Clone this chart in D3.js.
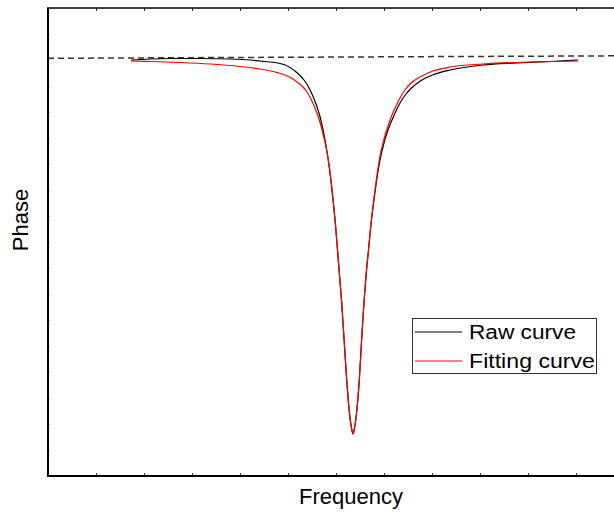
<!DOCTYPE html>
<html>
<head>
<meta charset="utf-8">
<script src="https://cdn.jsdelivr.net/npm/d3@7"></script>
<style>
  html, body { margin: 0; padding: 0; background: #fff; overflow: hidden; }
  svg { display: block; }
  text { font-family: "Liberation Sans", Arial, Helvetica, sans-serif; fill: #000; }
</style>
</head>
<body>
<svg id="chart" width="614" height="513"></svg>
<script>
// Frequency / phase readings (arbitrary units)
const rawFreq = [83, 102, 122, 152, 182, 202, 212, 222, 232, 237, 242, 247, 252, 256, 260, 264, 268, 271, 274, 277, 280, 282.5, 285, 287.5, 289.5, 291.5, 293.5, 296, 298.7, 300.5, 302, 303.5, 305, 306.5, 308, 309.5, 311.3, 313.5, 316, 318, 320.5, 323, 326, 329, 332, 336, 340, 344, 348, 352, 358, 363, 372, 385, 402, 435, 469, 502, 530];
const rawPhase = [416, 417, 417.5, 417.5, 417, 416, 415, 414, 412.5, 411, 408.5, 405, 400.5, 396, 390, 382, 372, 363, 351, 336, 318, 299, 276, 251, 226, 201, 176, 138, 96, 73, 58, 48, 42, 48, 58, 73, 96, 134, 174, 200, 226, 252, 276, 298, 316, 333, 346, 356, 365, 373, 382, 387.5, 394.7, 401.2, 406, 411, 413, 414.5, 416];

const fitFreq = [83, 102, 132, 162, 192, 212, 227, 237, 245, 251, 255, 259, 263, 267, 270, 273, 276, 279, 282, 285, 287.5, 289.5, 291.5, 293.5, 296, 298.7, 300.5, 302, 303.5, 305, 306.5, 308, 309.5, 311.3, 313.5, 316, 318, 320.5, 323, 326, 329, 332, 336, 340, 344, 348, 352, 357, 362, 372, 385, 402, 435, 485, 530];
const fitPhase = [415, 414.5, 413.5, 412, 409.5, 407, 404, 401, 397, 392.5, 389, 384, 377, 368, 360, 350, 338, 324, 304, 278, 251, 226, 201, 176, 138, 96, 73, 58, 48, 42, 48, 58, 73, 96, 134, 174, 200, 226, 252, 278, 301, 320, 337, 350, 361, 370, 378, 386, 392, 399, 405, 409, 412, 414, 415];

// Horizontal reference (baseline phase), slightly tilted
const refFreq = [0, 576];
const refPhase = [417.7, 420.2];

const xTicks = d3.range(0, 577, 48);
const yTicks = d3.range(0, 469, 26);

const legendLabels = ["Raw curve", "Fitting curve"];
const seriesColors = ["#000000", "#ff0000"];

const svg = d3.select("#chart");
const margin = { left: 48, top: 8, right: 624, bottom: 476 };

const x = d3.scaleLinear().domain([0, 576]).range([margin.left, margin.right]);
const y = d3.scaleLinear().domain([0, 468]).range([margin.bottom, margin.top]);

const toPts = (xs, ys) => xs.map((v, i) => [v, ys[i]]);
const line = d3.line().x(d => x(d[0])).y(d => y(d[1])).curve(d3.curveMonotoneX);

svg.append("defs").append("clipPath").attr("id", "plotClip")
  .append("rect")
  .attr("x", margin.left).attr("y", margin.top)
  .attr("width", margin.right - margin.left).attr("height", margin.bottom - margin.top);

const plot = svg.append("g").attr("clip-path", "url(#plotClip)");

// dashed baseline
plot.append("path")
  .datum(toPts(refFreq, refPhase))
  .attr("d", d3.line().x(d => x(d[0])).y(d => y(d[1])))
  .attr("fill", "none")
  .attr("stroke", "#333")
  .attr("stroke-width", 1.5)
  .attr("stroke-dasharray", "6,4");

// raw curve
plot.append("path")
  .datum(toPts(rawFreq, rawPhase))
  .attr("d", line)
  .attr("fill", "none")
  .attr("stroke", seriesColors[0])
  .attr("stroke-width", 1.2);

// fitting curve
plot.append("path")
  .datum(toPts(fitFreq, fitPhase))
  .attr("d", line)
  .attr("fill", "none")
  .attr("stroke", seriesColors[1])
  .attr("stroke-width", 1.2);

// axes (no labels, inward ticks); frame lines drawn separately
const bottomAxis = d3.axisBottom(x).tickValues(xTicks).tickSize(-3).tickSizeOuter(0).tickFormat("");
const topAxis = d3.axisTop(x).tickValues(xTicks).tickSize(-3).tickSizeOuter(0).tickFormat("");
const leftAxis = d3.axisLeft(y).tickValues(yTicks).tickSize(-2).tickSizeOuter(0).tickFormat("");

const gb = svg.append("g").attr("transform", `translate(0,${margin.bottom})`).call(bottomAxis);
const gt = svg.append("g").attr("transform", `translate(0,${margin.top})`).call(topAxis);
const gl = svg.append("g").attr("transform", `translate(${margin.left},0)`).call(leftAxis);
[gb, gt, gl].forEach(g => g.select(".domain").remove());
gb.selectAll(".tick line").attr("stroke", "#333").attr("stroke-width", 1);
gt.selectAll(".tick line").attr("stroke", "#333").attr("stroke-width", 1);
gl.selectAll(".tick line").attr("stroke", "#bbb").attr("stroke-width", 1);

const frame = svg.append("g").attr("stroke", "#000");
frame.append("line")
  .attr("x1", x.range()[0] - 1).attr("x2", x.range()[1])
  .attr("y1", y.range()[0]).attr("y2", y.range()[0])
  .attr("stroke-width", 2);
frame.append("line")
  .attr("x1", x.range()[0] - 1).attr("x2", x.range()[1])
  .attr("y1", y.range()[1]).attr("y2", y.range()[1])
  .attr("stroke-width", 1.6);
frame.append("line")
  .attr("x1", x.range()[0]).attr("x2", x.range()[0])
  .attr("y1", y.range()[1]).attr("y2", y.range()[0])
  .attr("stroke-width", 2);

// axis titles
svg.append("text")
  .attr("x", 351).attr("y", 504)
  .attr("text-anchor", "middle")
  .attr("font-size", 22)
  .text("Frequency");

svg.append("text")
  .attr("transform", "translate(28,220) rotate(-90)")
  .attr("text-anchor", "middle")
  .attr("font-size", 22)
  .text("Phase");

// legend
const legend = svg.append("g");
legend.append("rect")
  .attr("x", 412.5).attr("y", 318.5)
  .attr("width", 184).attr("height", 55)
  .attr("fill", "#fff")
  .attr("stroke", "#333")
  .attr("stroke-width", 1);

const legendRows = [332, 361];
const legendWidths = [107, 126];
legendLabels.forEach((lab, i) => {
  legend.append("line")
    .attr("x1", 415).attr("x2", 462)
    .attr("y1", legendRows[i]).attr("y2", legendRows[i])
    .attr("stroke", seriesColors[i])
    .attr("stroke-width", 1);
  legend.append("text")
    .attr("x", 469).attr("y", legendRows[i] + 7)
    .attr("font-size", 20)
    .attr("textLength", legendWidths[i])
    .attr("lengthAdjust", "spacingAndGlyphs")
    .text(lab);
});
</script>
</body>
</html>
